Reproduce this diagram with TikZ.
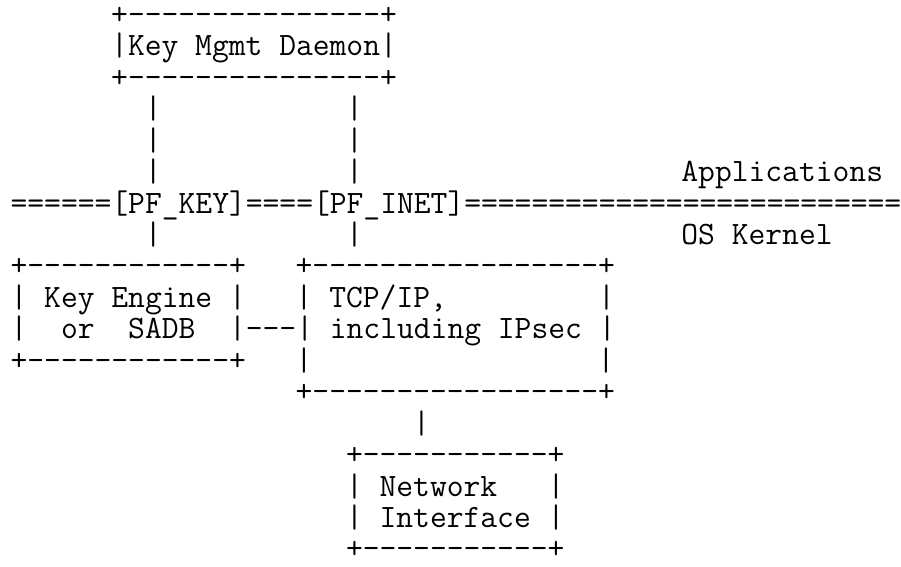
\documentclass[tikz,border=0pt]{standalone}
\usepackage{fontspec}
\newfontfamily\asciifont{Latin Modern Mono}
\newcommand\asciidashes[1]{\foreach \dd in {1,...,#1}{-\kern0pt}}
\tikzset{
  ascii/.style={anchor=base west, inner sep=0pt, outer sep=0pt, text=black,
    font=\asciifont\fontsize{32.63pt}{32.63pt}\selectfont}
}
\newcommand\frag[4]{\node[ascii] (#1) at ({10.6pt+(#2)*16.77pt},{-24.3pt-(#3)*31.45pt}) {#4};}
\begin{document}
\begin{tikzpicture}
\fill[white] (0,0) rectangle (901pt,-566pt);
\useasboundingbox (0,0) rectangle (901pt,-566pt);
\frag{topa}{6}{0}{+\asciidashes{15}+}
\frag{topb}{6}{1}{|Key~Mgmt~Daemon|}
\frag{topc}{6}{2}{+\asciidashes{15}+}
\frag{vka}{8}{3}{|}
\frag{via}{20}{3}{|}
\frag{vkb}{8}{4}{|}
\frag{vib}{20}{4}{|}
\frag{vkc}{8}{5}{|}
\frag{vic}{20}{5}{|}
\frag{apps}{40}{5}{Applications}
\frag{bar}{0}{6}{======[PF\_KEY]====[PF\_INET]=========================={}}
\frag{vkd}{8}{7}{|}
\frag{vid}{20}{7}{|}
\frag{kern}{40}{7}{OS~Kernel}
\frag{kea}{0}{8}{+\asciidashes{12}+}
\frag{tcpa}{17}{8}{+\asciidashes{17}+}
\frag{keb}{0}{9}{|~Key~Engine~|}
\frag{tcpb}{17}{9}{|~TCP/IP,~~~~~~~~~|}
\frag{mid}{0}{10}{|~~or~~SADB~~|\asciidashes{3}|~including~IPsec~|}
\frag{kec}{0}{11}{+\asciidashes{12}+}
\frag{tcpl}{17}{11}{|}
\frag{tcpr}{35}{11}{|}
\frag{tcpd}{17}{12}{+\asciidashes{17}+}
\frag{vn}{24}{13}{|}
\frag{nia}{20}{14}{+\asciidashes{11}+}
\frag{nib}{20}{15}{|~Network~~~|}
\frag{nic}{20}{16}{|~Interface~|}
\frag{nid}{20}{17}{+\asciidashes{11}+}
\end{tikzpicture}
\end{document}
